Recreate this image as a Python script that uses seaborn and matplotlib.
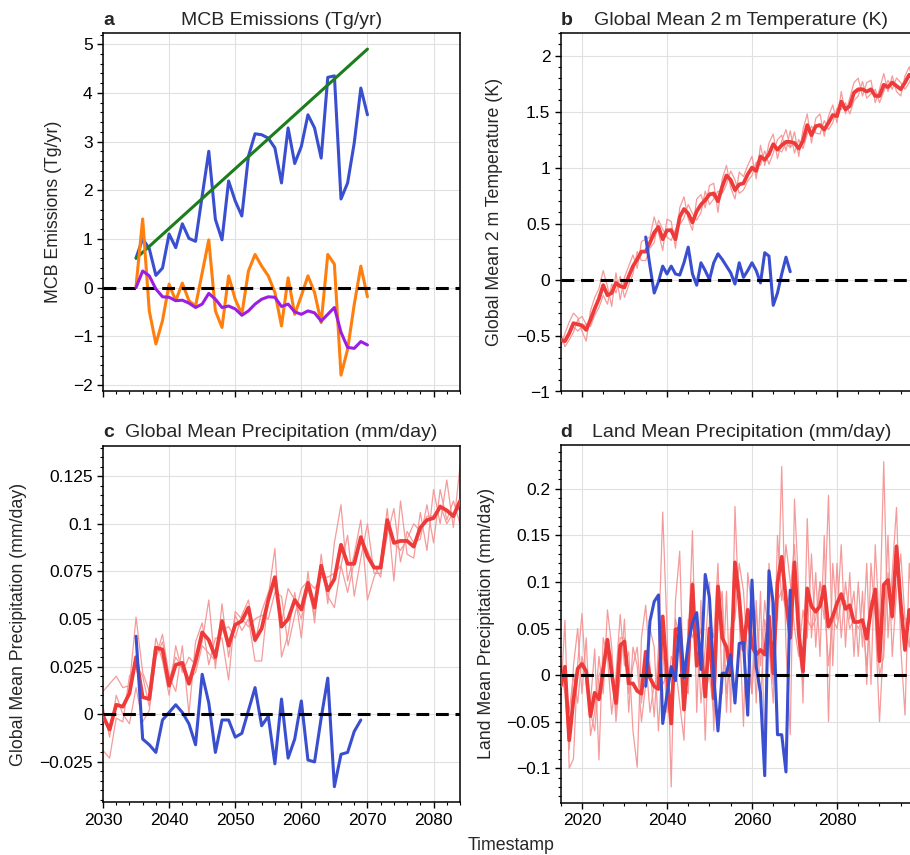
import numpy as np
import pandas as pd
import matplotlib
matplotlib.use("Agg")
import matplotlib.pyplot as plt
import seaborn as sns
from matplotlib.ticker import MultipleLocator, FuncFormatter

# ---------------- data ----------------
# Panel a: MCB emissions (Tg/yr), 2035-2070
years_a = list(range(2035, 2071))
emis_blue = [0.61, 1.00, 0.80, 0.25, 0.40, 1.10, 0.82, 1.31, 1.01, 0.95,
             1.88, 2.80, 1.40, 0.98, 2.19, 1.78, 1.47, 2.70, 3.16, 3.14,
             3.07, 2.87, 2.15, 3.28, 2.55, 2.90, 3.55, 3.28, 2.66, 4.32,
             4.35, 1.82, 2.15, 2.97, 4.10, 3.55]
emis_orange = [0.03, 1.41, -0.48, -1.16, -0.68, 0.07, -0.27, 0.09, -0.27, -0.38,
               0.30, 0.98, -0.48, -0.82, 0.24, -0.24, -0.55, 0.34, 0.68, 0.44,
               0.24, -0.10, -0.79, 0.20, -0.55, -0.17, 0.24, -0.10, -0.72, 0.68,
               0.48, -1.80, -1.27, -0.35, 0.44, -0.19]
emis_purple = [0.00, 0.34, 0.24, -0.03, -0.19, -0.20, -0.27, -0.26, -0.32, -0.41,
               -0.34, -0.12, -0.24, -0.41, -0.38, -0.44, -0.57, -0.48, -0.34, -0.24,
               -0.19, -0.20, -0.39, -0.34, -0.50, -0.55, -0.48, -0.52, -0.69, -0.55,
               -0.41, -0.92, -1.23, -1.25, -1.11, -1.18]
green_years = [2035, 2070]
green_vals = [0.60, 4.90]

# Panel b: Global mean 2 m temperature (K), 2015-2100
years_bd = list(range(2015, 2101))
temp_mean = [-0.54, -0.55, -0.48, -0.39, -0.40, -0.41, -0.45, -0.36, -0.26, -0.17,
             -0.05, -0.14, -0.12, -0.03, -0.06, -0.07, 0.03, 0.12, 0.18, 0.25,
             0.25, 0.33, 0.42, 0.47, 0.36, 0.44, 0.44, 0.36, 0.56, 0.63,
             0.59, 0.51, 0.61, 0.67, 0.71, 0.76, 0.77, 0.70, 0.83, 0.93,
             0.89, 0.80, 0.85, 0.86, 0.94, 1.00, 0.97, 1.10, 1.07, 1.12,
             1.21, 1.16, 1.20, 1.23, 1.23, 1.22, 1.17, 1.24, 1.38, 1.29,
             1.37, 1.38, 1.34, 1.40, 1.47, 1.46, 1.59, 1.52, 1.55, 1.67,
             1.70, 1.70, 1.68, 1.70, 1.64, 1.64, 1.74, 1.72, 1.76, 1.73,
             1.70, 1.76, 1.83, 1.80, 1.85, 1.88]
temp_m1 = [-0.60, -0.48, -0.38, -0.30, -0.34, -0.46, -0.55, -0.28, -0.16, -0.08,
           0.08, -0.06, -0.24, 0.06, -0.18, 0.02, 0.12, 0.22, 0.10, 0.34,
           0.36, 0.38, 0.56, 0.42, 0.26, 0.54, 0.52, 0.28, 0.64, 0.74,
           0.54, 0.44, 0.72, 0.76, 0.64, 0.84, 0.86, 0.60, 0.90, 1.02,
           0.82, 0.72, 0.96, 0.92, 1.02, 1.10, 0.90, 1.20, 1.02, 1.22,
           1.30, 1.08, 1.24, 1.34, 1.18, 1.32, 1.10, 1.34, 1.48, 1.22,
           1.44, 1.48, 1.28, 1.46, 1.56, 1.40, 1.68, 1.48, 1.62, 1.76,
           1.80, 1.64, 1.76, 1.78, 1.58, 1.70, 1.84, 1.68, 1.82, 1.68,
           1.64, 1.82, 1.90, 1.74, 1.92, 1.94]
temp_m2 = [-0.48, -0.60, -0.54, -0.47, -0.36, -0.33, -0.40, -0.42, -0.32, -0.25,
           -0.14, -0.22, -0.04, -0.12, 0.03, -0.16, -0.05, 0.05, 0.25, 0.17,
           0.17, 0.28, 0.33, 0.53, 0.45, 0.38, 0.35, 0.45, 0.49, 0.55,
           0.67, 0.59, 0.53, 0.60, 0.79, 0.67, 0.72, 0.79, 0.77, 0.85,
           0.97, 0.89, 0.77, 0.80, 0.88, 0.93, 1.05, 1.02, 1.15, 1.03,
           1.13, 1.25, 1.29, 1.15, 1.33, 1.13, 1.25, 1.17, 1.30, 1.37,
           1.31, 1.30, 1.42, 1.34, 1.40, 1.53, 1.52, 1.58, 1.48, 1.60,
           1.64, 1.77, 1.62, 1.66, 1.70, 1.58, 1.68, 1.78, 1.70, 1.80,
           1.76, 1.70, 1.76, 1.86, 1.78, 1.82]
temp_m3 = [-0.56, -0.56, -0.50, -0.42, -0.46, -0.42, -0.40, -0.38, -0.28, -0.18,
           -0.08, -0.14, -0.10, -0.04, -0.04, -0.08, 0.04, 0.10, 0.20, 0.26,
           0.24, 0.34, 0.38, 0.46, 0.38, 0.42, 0.46, 0.38, 0.56, 0.62,
           0.58, 0.50, 0.60, 0.66, 0.72, 0.78, 0.74, 0.70, 0.82, 0.92,
           0.90, 0.78, 0.84, 0.86, 0.94, 0.98, 0.98, 1.10, 1.06, 1.12,
           1.20, 1.16, 1.14, 1.22, 1.18, 1.22, 1.18, 1.22, 1.38, 1.30,
           1.38, 1.38, 1.32, 1.40, 1.46, 1.46, 1.58, 1.50, 1.56, 1.66,
           1.68, 1.70, 1.68, 1.68, 1.64, 1.64, 1.72, 1.70, 1.76, 1.72,
           1.70, 1.76, 1.82, 1.80, 1.86, 1.88]
years_mcb = list(range(2035, 2070))
temp_mcb = [0.38, 0.12, -0.12, -0.02, 0.12, 0.05, 0.12, 0.05, 0.04, 0.15,
            0.29, 0.05, -0.05, 0.15, 0.08, 0.00, 0.15, 0.23, 0.18, 0.12,
            0.06, -0.04, 0.15, 0.02, 0.08, 0.15, 0.08, -0.03, 0.24, 0.21,
            -0.23, -0.12, 0.05, 0.20, 0.07]

# Panel c: Global mean precipitation (mm/day), 2030-2085
years_c = list(range(2030, 2086))
gpr_mean = [-0.001, -0.008, 0.005, 0.004, 0.011, 0.030, 0.009, 0.008, 0.035, 0.034,
            0.015, 0.026, 0.027, 0.016, 0.028, 0.043, 0.039, 0.030, 0.049, 0.036,
            0.047, 0.049, 0.056, 0.039, 0.045, 0.060, 0.072, 0.046, 0.050, 0.060,
            0.055, 0.069, 0.056, 0.078, 0.065, 0.071, 0.089, 0.079, 0.079, 0.093,
            0.083, 0.077, 0.077, 0.102, 0.090, 0.091, 0.091, 0.088, 0.098, 0.102,
            0.103, 0.109, 0.107, 0.104, 0.112, 0.110]
gpr_m1 = [0.012, 0.016, 0.020, 0.014, 0.015, 0.051, 0.022, 0.012, 0.040, 0.028,
          0.010, 0.036, 0.022, 0.030, 0.026, 0.038, 0.060, 0.024, 0.058, 0.030,
          0.052, 0.044, 0.050, 0.028, 0.028, 0.062, 0.087, 0.030, 0.042, 0.064,
          0.040, 0.075, 0.048, 0.084, 0.058, 0.090, 0.110, 0.070, 0.084, 0.102,
          0.060, 0.072, 0.080, 0.108, 0.070, 0.112, 0.084, 0.082, 0.106, 0.086,
          0.118, 0.100, 0.123, 0.098, 0.130, 0.120]
gpr_m2 = [-0.019, -0.023, -0.002, -0.004, 0.020, 0.026, 0.020, 0.004, 0.030, 0.042,
          0.020, 0.012, 0.036, 0.000, 0.038, 0.048, 0.026, 0.040, 0.040, 0.018,
          0.054, 0.050, 0.046, 0.050, 0.052, 0.050, 0.064, 0.062, 0.036, 0.052,
          0.066, 0.070, 0.066, 0.072, 0.072, 0.074, 0.078, 0.094, 0.062, 0.082,
          0.100, 0.074, 0.074, 0.094, 0.108, 0.080, 0.096, 0.090, 0.092, 0.110,
          0.090, 0.118, 0.102, 0.112, 0.100, 0.106]
gpr_m3 = [0.004, -0.012, 0.010, 0.000, -0.005, 0.014, -0.004, 0.002, 0.030, 0.038,
          0.018, 0.030, 0.024, 0.018, 0.022, 0.036, 0.032, 0.028, 0.044, 0.046,
          0.040, 0.052, 0.060, 0.038, 0.054, 0.064, 0.070, 0.048, 0.066, 0.060,
          0.050, 0.066, 0.052, 0.076, 0.062, 0.056, 0.078, 0.064, 0.080, 0.090,
          0.086, 0.078, 0.072, 0.100, 0.090, 0.086, 0.092, 0.100, 0.096, 0.104,
          0.104, 0.110, 0.100, 0.106, 0.108, 0.104]
gpr_mcb = [0.041, -0.013, -0.016, -0.020, -0.003, 0.001, 0.005, 0.001, -0.005, -0.016,
           0.021, 0.006, -0.020, -0.003, -0.003, -0.012, -0.010, 0.002, 0.014, -0.006,
           -0.001, -0.026, 0.008, -0.023, -0.013, 0.007, -0.024, -0.025, -0.002, 0.019,
           -0.038, -0.021, -0.020, -0.009, -0.003]

# Panel d: Land mean precipitation (mm/day), 2015-2100
lpr_mean = [-0.012, 0.009, -0.070, -0.027, 0.007, 0.012, 0.004, -0.044, -0.019, -0.026,
            0.006, 0.038, 0.002, -0.030, 0.032, 0.036, -0.009, -0.009, -0.017, -0.020,
            0.025, -0.003, -0.012, -0.015, 0.063, 0.000, -0.052, 0.049, 0.050, -0.037,
            0.018, 0.097, 0.010, 0.030, -0.023, 0.050, -0.025, 0.095, 0.040, 0.030,
            0.000, 0.121, 0.081, 0.027, 0.070, 0.031, 0.022, 0.027, 0.022, 0.063,
            0.002, 0.099, 0.127, 0.081, 0.040, 0.121, 0.045, 0.004, 0.093, 0.074,
            0.068, 0.074, 0.095, 0.052, 0.063, 0.077, 0.087, 0.071, 0.075, 0.057,
            0.057, 0.059, 0.039, 0.070, 0.092, 0.015, 0.097, 0.102, 0.063, 0.138,
            0.077, 0.027, 0.070, 0.060, 0.075, 0.055]
lpr_m1 = [-0.025, 0.059, -0.100, -0.090, 0.012, 0.066, -0.010, -0.030, 0.028, -0.091,
          0.040, 0.020, -0.042, 0.000, 0.065, 0.010, 0.025, -0.060, -0.099, 0.040,
          0.075, 0.010, -0.045, 0.030, 0.175, 0.050, -0.120, 0.080, 0.133, -0.030,
          0.030, 0.155, -0.040, 0.080, -0.070, 0.060, 0.040, 0.120, -0.020, 0.090,
          -0.040, 0.181, 0.060, -0.055, 0.110, 0.070, -0.030, 0.090, -0.080, 0.120,
          0.040, 0.060, 0.224, 0.030, -0.064, 0.189, 0.090, -0.030, 0.168, 0.040,
          0.110, 0.020, 0.150, -0.050, 0.120, 0.060, 0.140, 0.030, 0.110, 0.020,
          0.100, 0.030, 0.120, -0.010, 0.140, 0.050, 0.229, 0.040, 0.110, 0.180,
          0.030, -0.043, 0.120, 0.050, 0.100, 0.020]
lpr_m2 = [0.010, -0.020, -0.080, 0.010, 0.050, -0.020, 0.040, -0.065, -0.040, 0.020,
          -0.020, 0.070, 0.030, -0.050, 0.000, 0.060, -0.040, 0.030, 0.010, -0.050,
          -0.010, 0.050, 0.030, -0.060, 0.030, -0.040, 0.020, 0.010, -0.030, -0.070,
          0.060, 0.040, 0.060, -0.030, 0.030, 0.100, -0.060, 0.060, 0.090, -0.040,
          0.050, 0.060, 0.120, 0.090, 0.020, -0.020, 0.080, -0.030, 0.060, 0.030,
          -0.030, 0.150, 0.080, 0.140, 0.100, 0.050, 0.020, 0.070, 0.040, 0.130,
          0.030, 0.100, 0.060, 0.193, 0.010, 0.120, 0.040, 0.100, 0.060, 0.090,
          0.020, 0.090, -0.010, 0.120, 0.060, -0.050, 0.040, 0.150, 0.020, 0.090,
          0.130, 0.060, 0.030, 0.090, 0.040, 0.080]
lpr_m3 = [-0.015, 0.000, -0.040, 0.000, -0.030, 0.020, 0.000, -0.040, -0.060, 0.000,
          0.010, 0.030, 0.020, -0.040, 0.040, 0.040, -0.020, 0.010, 0.030, -0.030,
          0.020, -0.040, -0.010, 0.000, -0.010, 0.000, -0.050, 0.060, 0.040, -0.010,
          -0.020, 0.100, 0.030, 0.050, -0.020, 0.000, -0.040, 0.100, 0.080, -0.020,
          0.020, 0.120, 0.100, 0.040, 0.070, -0.020, 0.070, 0.010, 0.080, 0.040,
          -0.010, 0.080, 0.090, 0.070, 0.090, 0.140, 0.030, -0.010, 0.060, 0.050,
          0.060, 0.100, 0.080, 0.010, 0.060, 0.050, 0.080, 0.080, 0.050, 0.060,
          0.050, 0.060, 0.010, 0.080, 0.070, 0.000, 0.020, 0.110, 0.060, 0.140,
          0.070, 0.060, 0.060, 0.040, 0.080, 0.060]
lpr_mcb = [-0.012, 0.058, 0.079, 0.086, -0.052, -0.021, 0.009, -0.006, 0.061, -0.003,
           0.034, 0.056, 0.067, 0.006, 0.108, 0.083, 0.000, -0.060, 0.002, 0.002,
           0.022, -0.030, 0.034, 0.035, -0.043, 0.102, 0.009, -0.019, -0.108, 0.112,
           0.077, -0.064, -0.064, -0.104, 0.091]

titles = ["MCB Emissions (Tg/yr)", "Global Mean 2\u2009m Temperature (K)",
          "Global Mean Precipitation (mm/day)", "Land Mean Precipitation (mm/day)"]
ylabels = ["MCB Emissions (Tg/yr)", "Global Mean 2 m Temperature (K)",
           "Global Mean Precipitation (mm/day)", "Land Mean Precipitation (mm/day)"]
letters = ["a", "b", "c", "d"]
xticks_ac = [2030, 2040, 2050, 2060, 2070, 2080]
xticks_bd = [2020, 2040, 2060, 2080]

# ---------------- style ----------------
sns.set_theme(style="ticks")
plt.rcParams["font.family"] = ["Liberation Sans", "DejaVu Sans"]
plt.rcParams["axes.unicode_minus"] = True

RED = "#ef3a3a"
RED_THIN = "#f49090"
BLUE = "#3a4fd0"
GREEN = "#1b7d1b"
ORANGE = "#ff7f0e"
PURPLE = "#9a1fe3"

fig = plt.figure(figsize=(9.1, 8.55), dpi=100)
W, H = 910.0, 855.0
def add_ax(left, top, right, bottom):
    return fig.add_axes([left / W, 1 - bottom / H, (right - left) / W, (bottom - top) / H])

ax_a = add_ax(103, 33.3, 460, 390.7)
ax_b = add_ax(560.7, 33.3, 922, 391.5)
ax_c = add_ax(103, 445.7, 460, 802.3)
ax_d = add_ax(560.7, 445.0, 922, 802.7)
axes = [ax_a, ax_b, ax_c, ax_d]

def fmt(v, pos):
    v = round(v, 6)
    if v == 0:
        return "0"
    return ("{:g}".format(v)).replace("-", "\u2212")

def line(ax, x, y, color, lw, alpha=1.0, z=2):
    df = pd.DataFrame({"x": x, "y": y})
    sns.lineplot(data=df, x="x", y="y", ax=ax, color=color, linewidth=lw,
                 alpha=alpha, estimator=None, zorder=z)

def zero(ax):
    ax.axhline(0, color="black", linewidth=2.2, linestyle=(0, (4.2, 2.2)), zorder=5)

# panel a
line(ax_a, years_a, emis_blue, BLUE, 2.2)
line(ax_a, green_years, green_vals, GREEN, 2.2)
line(ax_a, years_a, emis_orange, ORANGE, 2.2)
zero(ax_a)
line(ax_a, years_a, emis_purple, PURPLE, 2.2, z=6)

# panel b
for m in (temp_m1, temp_m2, temp_m3):
    line(ax_b, years_bd, m, RED_THIN, 0.9, alpha=0.9)
line(ax_b, years_bd, temp_mean, RED, 2.7, z=3)
line(ax_b, years_mcb, temp_mcb, BLUE, 2.2, z=4)
zero(ax_b)

# panel c
for m in (gpr_m1, gpr_m2, gpr_m3):
    line(ax_c, years_c, m, RED_THIN, 0.9, alpha=0.9)
line(ax_c, years_c, gpr_mean, RED, 2.7, z=3)
line(ax_c, years_mcb, gpr_mcb, BLUE, 2.2, z=4)
zero(ax_c)

# panel d
for m in (lpr_m1, lpr_m2, lpr_m3):
    line(ax_d, years_bd, m, RED_THIN, 0.9, alpha=0.9)
line(ax_d, years_bd, lpr_mean, RED, 2.7, z=3)
line(ax_d, years_mcb, lpr_mcb, BLUE, 2.2, z=4)
zero(ax_d)

# limits and ticks
ax_a.set_xlim(2030, 2084); ax_c.set_xlim(2030, 2084)
ax_b.set_xlim(2015, 2100); ax_d.set_xlim(2015, 2100)
ax_a.set_ylim(-2.12, 5.225)
ax_b.set_ylim(-1.0, 2.2)
ax_c.set_ylim(-0.0462, 0.141)
ax_d.set_ylim(-0.137, 0.247)

for ax in (ax_a, ax_c):
    ax.set_xticks(xticks_ac)
    ax.xaxis.set_minor_locator(MultipleLocator(2))
for ax in (ax_b, ax_d):
    ax.set_xticks(xticks_bd)
    ax.xaxis.set_minor_locator(MultipleLocator(5))
ax_a.yaxis.set_major_locator(MultipleLocator(1)); ax_a.yaxis.set_minor_locator(MultipleLocator(0.2))
ax_b.yaxis.set_major_locator(MultipleLocator(0.5)); ax_b.yaxis.set_minor_locator(MultipleLocator(0.1))
ax_c.yaxis.set_major_locator(MultipleLocator(0.025)); ax_c.yaxis.set_minor_locator(MultipleLocator(0.005))
ax_d.yaxis.set_major_locator(MultipleLocator(0.05)); ax_d.yaxis.set_minor_locator(MultipleLocator(0.01))

label_x = [-0.115, -0.16, -0.213, -0.182]
for i, ax in enumerate(axes):
    ax.yaxis.set_major_formatter(FuncFormatter(fmt))
    ax.xaxis.set_major_formatter(FuncFormatter(lambda v, p: "{:d}".format(int(round(v)))))
    ax.grid(True, which="major", color="#e0e0e0", linewidth=0.8, zorder=0)
    ax.set_axisbelow(True)
    ax.tick_params(which="major", direction="out", length=4.5, width=1.0,
                   labelsize=12.5, color="black", labelcolor="black", pad=3)
    ax.tick_params(which="minor", direction="out", length=2.5, width=0.8, color="black")
    for s in ax.spines.values():
        s.set_visible(True)
        s.set_color("black")
        s.set_linewidth(1.1)
    ax.set_xlabel("")
    ax.set_ylabel(ylabels[i], fontsize=12.8)
    ax.yaxis.set_label_coords(label_x[i], 0.5)
    ax.set_title(titles[i], loc="center", fontsize=14, pad=6)
    ax.set_title(letters[i], loc="left", fontsize=14, fontweight="bold", pad=6)

ax_a.tick_params(labelbottom=False)
ax_b.tick_params(labelbottom=False)

fig.text(511 / W, 1 - 845 / H, "Timestamp", ha="center", va="center", fontsize=12.8)

fig.savefig("out.png", dpi=100)
